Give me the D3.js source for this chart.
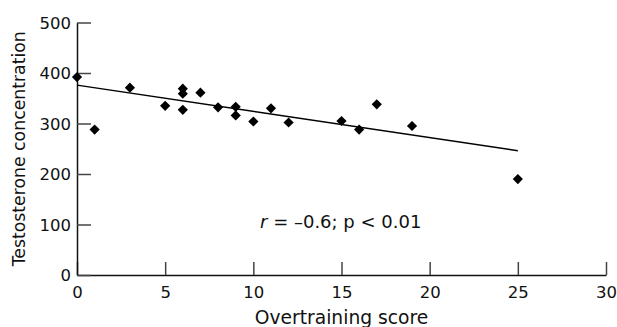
<!DOCTYPE html>
<html>
<head>
<meta charset="utf-8">
<script src="https://cdn.jsdelivr.net/npm/d3@7"></script>
<style>
  html, body { margin: 0; padding: 0; background: #fff; }
  svg text { font-family: 'DejaVu Sans', sans-serif; fill: #111; }
</style>
</head>
<body>
<div id="chart"></div>
<script>
// Overtraining score vs testosterone concentration
const overtrainingScore = [0, 1, 3, 5, 6, 6, 6, 7, 8, 9, 9, 10, 11, 12, 15, 16, 17, 19, 25];
const testosterone = [392, 288, 371, 335, 369, 359, 327, 361, 332, 333, 316, 304, 330, 302, 305, 288, 338, 295, 190];
const fitX = [0, 25];
const fitY = [376, 246];
const xTicks = [0, 5, 10, 15, 20, 25, 30];
const yTicks = [0, 100, 200, 300, 400, 500];

const width = 617, height = 327;
const margin = { left: 77, right: 11, top: 22.5, bottom: 52 };

const svg = d3.select("#chart").append("svg")
    .attr("width", width)
    .attr("height", height);

const x = d3.scaleLinear().domain([0, 30]).range([margin.left, width - margin.right]);
const y = d3.scaleLinear().domain([0, 500]).range([height - margin.bottom, margin.top]);

// Axes (ticks point inward)
const xAxis = svg.append("g")
    .attr("transform", `translate(0,${y(0)})`)
    .call(d3.axisBottom(x).tickValues(xTicks).tickSizeInner(-13).tickSizeOuter(0).tickPadding(20));
const yAxis = svg.append("g")
    .attr("transform", `translate(${x(0)},0)`)
    .call(d3.axisLeft(y).tickValues(yTicks).tickSizeInner(-14).tickSizeOuter(0).tickPadding(6));

[xAxis, yAxis].forEach(g => {
    g.select(".domain").attr("stroke", "#111").attr("stroke-width", 1.5);
    g.selectAll(".tick line").attr("stroke", "#444").attr("stroke-width", 1.5);
    g.selectAll(".tick text").attr("font-size", 16.5).attr("fill", "#111")
        .attr("font-family", "'DejaVu Sans', sans-serif");
});
xAxis.selectAll(".tick text").attr("dy", "0.2em");
yAxis.selectAll(".tick text").attr("dy", "0.35em");

// Regression line
svg.append("line")
    .attr("x1", x(fitX[0])).attr("y1", y(fitY[0]))
    .attr("x2", x(fitX[1])).attr("y2", y(fitY[1]))
    .attr("stroke", "#000").attr("stroke-width", 1.5);

// Points (diamonds)
const diamond = d3.symbol().type(d3.symbolSquare).size(52);
svg.append("g")
    .selectAll("path")
    .data(overtrainingScore.map((v, i) => [v, testosterone[i]]))
    .enter()
    .append("path")
    .attr("d", diamond)
    .attr("transform", d => `translate(${x(d[0])},${y(d[1])}) rotate(45)`)
    .attr("fill", "#000");

// Annotation
const note = svg.append("text")
    .attr("x", 260)
    .attr("y", 228)
    .attr("font-size", 18);
note.append("tspan").attr("font-style", "italic").text("r");
note.append("tspan").text(" = \u20130.6; p < 0.01");

// Axis titles
svg.append("text")
    .attr("x", (x(0) + x(30)) / 2)
    .attr("y", 324)
    .attr("text-anchor", "middle")
    .attr("font-size", 18.7)
    .text("Overtraining score");

svg.append("text")
    .attr("transform", `translate(25,${(y(0) + y(500)) / 2}) rotate(-90)`)
    .attr("text-anchor", "middle")
    .attr("font-size", 17.3)
    .text("Testosterone concentration");
</script>
</body>
</html>
